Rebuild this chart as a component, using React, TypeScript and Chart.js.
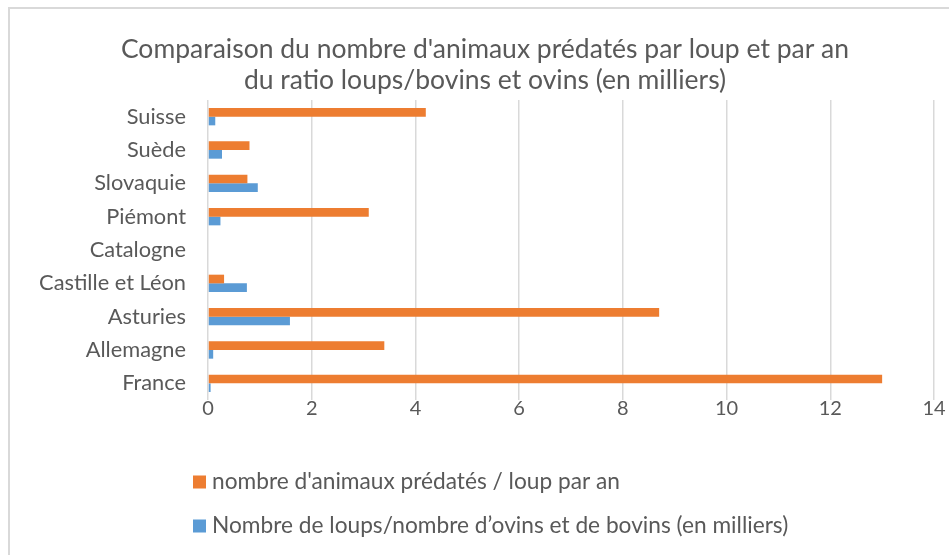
import React, { useEffect, useRef } from 'react';
import { Chart, registerables } from 'chart.js';

Chart.register(...registerables);

const categories = ['Suisse', 'Suède', 'Slovaquie', 'Piémont', 'Catalogne', 'Castille et Léon', 'Asturies', 'Allemagne', 'France'];
const predatedPerWolf = [4.2, 0.8, 0.76, 3.1, 0, 0.31, 8.7, 3.4, 13];
const wolvesPerLivestock = [0.14, 0.27, 0.96, 0.24, 0, 0.75, 1.58, 0.1, 0.05];
const xMin = 0;
const xMax = 14;
const xStep = 2;
const titleLines = ["Comparaison du nombre d'animaux prédatés par loup et par an", 'du ratio loups/bovins et ovins (en milliers)'];
const seriesLabels = ["nombre d'animaux prédatés / loup par an", 'Nombre de loups/nombre d\u2019ovins et de bovins (en milliers)'];

const ORANGE = '#ED7D31';
const BLUE = '#5B9BD5';
const TEXT = '#595959';
const GRID = '#D9D9D9';
const FONT = 'Lato';

const legendPlugin = {
  id: 'bottomLegend',
  afterDraw(chart: any) {
    const ctx = chart.ctx;
    ctx.save();
    ctx.font = `22.7px ${FONT}`;
    ctx.textBaseline = 'middle';
    ctx.textAlign = 'left';
    chart.data.datasets.forEach((ds: any, i: number) => {
      const y = 482 + i * 44;
      ctx.fillStyle = ds.backgroundColor;
      ctx.fillRect(193, y - 6.5, 13, 13);
      ctx.fillStyle = TEXT;
      ctx.fillText(ds.label, 212, y);
    });
    ctx.restore();
  },
};

export default function App() {
  const ref = useRef<HTMLCanvasElement | null>(null);

  useEffect(() => {
    if (!ref.current) return;
    const chart = new Chart(ref.current, {
      type: 'bar',
      data: {
        labels: categories,
        datasets: [
          {
            label: seriesLabels[0],
            data: predatedPerWolf,
            backgroundColor: ORANGE,
            categoryPercentage: 0.52,
            barPercentage: 1,
          },
          {
            label: seriesLabels[1],
            data: wolvesPerLivestock,
            backgroundColor: BLUE,
            categoryPercentage: 0.52,
            barPercentage: 1,
          },
        ],
      },
      options: {
        indexAxis: 'y',
        animation: false,
        responsive: false,
        maintainAspectRatio: false,
        layout: { padding: { left: 36, right: 15, top: 0, bottom: 125 } },
        plugins: {
          legend: { display: false },
          tooltip: { enabled: false },
          title: {
            display: true,
            text: titleLines,
            color: TEXT,
            font: { family: FONT, size: 26.5, weight: 'normal', lineHeight: 1.17 },
            padding: { top: 33.5, bottom: 4.5 },
          },
        },
        scales: {
          x: {
            min: xMin,
            max: xMax,
            ticks: { stepSize: xStep, color: TEXT, font: { family: FONT, size: 20 }, padding: -3 },
            grid: { color: GRID, lineWidth: 1.5, drawTicks: false },
            border: { display: false },
            afterFit: (s: any) => { s.height = 30; },
          },
          y: {
            ticks: { color: TEXT, font: { family: FONT, size: 21.8 }, padding: 22 },
            grid: { display: false, drawTicks: false },
            border: { display: false },
            afterFit: (s: any) => { s.width = 172; },
          },
        },
      },
      plugins: [legendPlugin],
    });
    return () => chart.destroy();
  }, []);

  return (
    <div style={{ position: 'fixed', left: 0, top: 0, width: 949, height: 555, background: '#fff', overflow: 'hidden' }}>
      <div style={{ position: 'absolute', left: 8, top: 7, width: 1000, height: 600, border: `2px solid ${GRID}`, boxSizing: 'border-box' }} />
      <canvas ref={ref} width={949} height={555} style={{ position: 'absolute', left: 0, top: 0 }} />
    </div>
  );
}
